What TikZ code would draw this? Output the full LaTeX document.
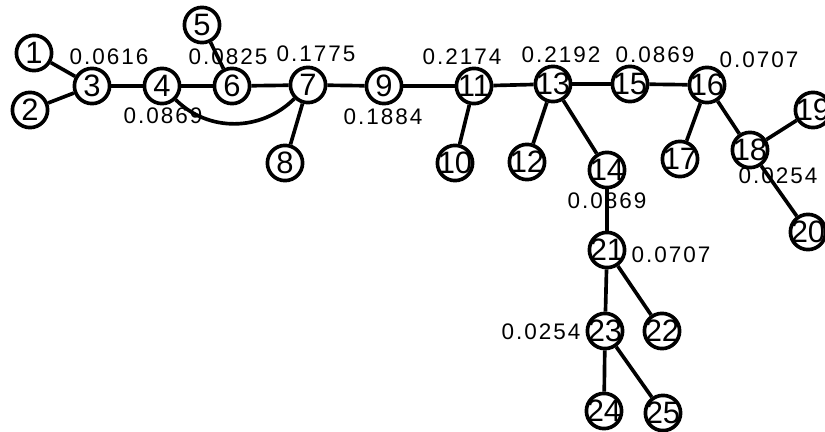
\documentclass[tikz,border=0pt]{standalone}
\usepackage{fontspec}
\setmainfont{Liberation Sans}
\newfontfamily\weightfont[LetterSpace=9]{Liberation Sans}
\usepackage{tikz}
\usetikzlibrary{positioning}
\tikzstyle{vertex}=[circle,draw,line width=2.6pt,fill=white,inner sep=-3pt,minimum size=0.88cm,font=\fontsize{22}{24}\selectfont]
\tikzstyle{weight}=[inner sep=0pt,font=\fontsize{16}{18}\weightfont]
\tikzstyle{link}=[-,draw,line width=2.6pt]

\begin{document}
\begin{tikzpicture}[x=0.025cm,y=0.025cm]
	\useasboundingbox (0,0) rectangle (825,-432);
	\node[vertex] (1) at (34,-53) {1};
	\node[vertex] (2) at (30,-110) {2};
	\node[vertex] (3) at (92,-86) {3};
	\node[vertex] (4) at (162,-86) {4};
	\node[vertex] (5) at (202,-25) {5};
	\node[vertex] (6) at (232,-86) {6};
	\node[vertex] (7) at (308,-85) {7};
	\node[vertex] (8) at (285,-163) {8};
	\node[vertex] (9) at (384,-86) {9};
	\node[vertex] (10) at (455,-163) {10};
	\node[vertex] (11) at (474,-86) {11};
	\node[vertex] (12) at (527,-162) {12};
	\node[vertex] (13) at (553,-84) {13};
	\node[vertex] (14) at (607,-170) {14};
	\node[vertex] (15) at (630,-84) {15};
	\node[vertex] (16) at (707,-85) {16};
	\node[vertex] (17) at (680,-159) {17};
	\node[vertex] (18) at (750,-150) {18};
	\node[vertex] (19) at (813,-110) {19};
	\node[vertex] (20) at (808,-232) {20};
	\node[vertex] (21) at (607,-250) {21};
	\node[vertex] (22) at (662,-331) {22};
	\node[vertex] (23) at (605,-331) {23};
	\node[vertex] (24) at (604,-411) {24};
	\node[vertex] (25) at (663,-413) {25};
	\path [link] (1) edge [link] (3);
	\path [link] (2) edge [link] (3);
	\path [link] (3) edge [link] (4);
	\path [link] (4) edge [link] (6);
	\path [link] (5) edge [link] (6);
	\path [link] (6) edge [link] (7);
	\path [link] (4) edge [link,out=-45,in=-135] (7);
	\path [link] (7) edge [link] (8);
	\path [link] (7) edge [link] (9);
	\path [link] (9) edge [link] (11);
	\path [link] (11) edge [link] (10);
	\path [link] (11) edge [link] (13);
	\path [link] (13) edge [link] (12);
	\path [link] (13) edge [link] (14);
	\path [link] (13) edge [link] (15);
	\path [link] (15) edge [link] (16);
	\path [link] (16) edge [link] (17);
	\path [link] (16) edge [link] (18);
	\path [link] (18) edge [link] (19);
	\path [link] (18) edge [link] (20);
	\path [link] (14) edge [link] (21);
	\path [link] (21) edge [link] (23);
	\path [link] (21) edge [link] (22);
	\path [link] (23) edge [link] (24);
	\path [link] (23) edge [link] (25);
	% weights
	\node[weight] (w3) at (109,-57) {0.0616};
	\node[weight] (w6) at (228,-57) {0.0825};
	\node[weight] (w7) at (316,-54) {0.1775};
	\node[weight] (w4) at (163,-116) {0.0869};
	\node[weight] (w9) at (383,-117) {0.1884};
	\node[weight] (w11) at (462,-57) {0.2174};
	\node[weight] (w13) at (561,-55) {0.2192};
	\node[weight] (w15) at (655,-55) {0.0869};
	\node[weight] (w16) at (759,-60) {0.0707};
	\node[weight] (w18) at (778,-176) {0.0254};
	\node[weight] (w14) at (607,-201) {0.0869};
	\node[weight] (w21) at (671,-255) {0.0707};
	\node[weight] (w23) at (541,-332) {0.0254};
\end{tikzpicture}
\end{document}
